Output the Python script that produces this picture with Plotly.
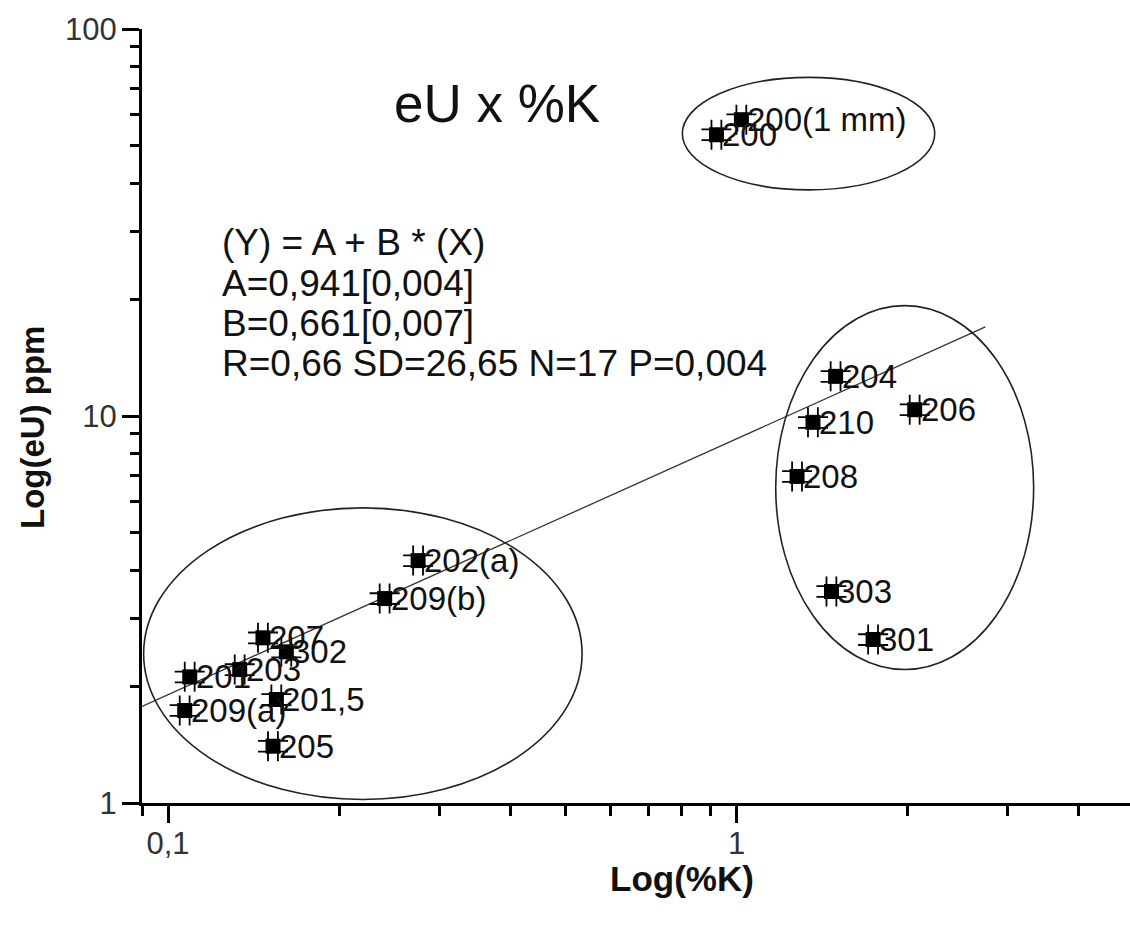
import numpy as np
import plotly.graph_objects as go

# Sample labels with potassium (%K) and equivalent uranium (eU, ppm)
samples = ["200(1 mm)", "200", "204", "206", "210", "208", "303", "301",
           "202(a)", "209(b)", "207", "302", "203", "201", "209(a)", "201,5", "205"]
potassium = [1.020, 0.922, 1.494, 2.058, 1.363, 1.278, 1.469, 1.739,
             0.2754, 0.2405, 0.1469, 0.1615, 0.1337, 0.1092, 0.1070, 0.1551, 0.1530]
uranium = [58.3, 53.3, 12.66, 10.38, 9.63, 6.98, 3.52, 2.645,
           4.23, 3.375, 2.672, 2.458, 2.212, 2.118, 1.734, 1.851, 1.402]

# Linear fit in log-log space: log(Y) = A + B * log(X)
fit_a = 0.941
fit_b = 0.661
fit_x_span = [0.09, 2.74]
fit_lines = ["(Y) = A + B * (X)",
             "A=0,941[0,004]",
             "B=0,661[0,007]",
             "R=0,66 SD=26,65 N=17 P=0,004"]

# Groups outlined by ellipses: (x_min, x_max, y_min, y_max) in data units
groups = [
    (0.0906, 0.5350, 1.021, 5.79),
    (1.172, 3.332, 2.212, 19.28),
    (0.8030, 2.232, 38.4, 75.0),
]

# Axis ticks
x_major = [0.1, 1]
x_major_text = ["0,1", "1"]
y_major = [1, 10, 100]
y_major_text = ["1", "10", "100"]
x_minor = [0.09, 0.2, 0.3, 0.4, 0.5, 0.6, 0.7, 0.8, 0.9, 2, 3, 4]
y_minor = [2, 3, 4, 5, 6, 7, 8, 9, 20, 30, 40, 50, 60, 70, 80, 90]

FONT = "Liberation Sans, Arial, sans-serif"

fig = go.Figure()

fit_x = np.array(fit_x_span)
fit_y = 10 ** (fit_a + fit_b * np.log10(fit_x))
fig.add_trace(go.Scatter(
    x=fit_x, y=fit_y, mode="lines",
    line=dict(color="#333333", width=1.3),
    hoverinfo="skip", showlegend=False,
))

fig.add_trace(go.Scatter(
    x=potassium, y=uranium, mode="markers",
    marker=dict(symbol="square", size=15, color="black", line=dict(width=0)),
    error_x=dict(type="percent", value=2.0, color="black", thickness=1.8, width=15),
    error_y=dict(type="percent", value=3.2, color="black", thickness=1.8, width=15),
    text=samples, hovertemplate="%{text}<br>K=%{x}<br>eU=%{y}<extra></extra>",
    showlegend=False,
))

annotations = []
for name, kx, uy in zip(samples, potassium, uranium):
    annotations.append(dict(
        x=np.log10(kx), y=np.log10(uy), xref="x", yref="y",
        text=name, showarrow=False, xanchor="left", yanchor="middle",
        xshift=4, font=dict(family=FONT, size=33, color="#111111"),
    ))

shapes = []
for x0, x1, y0, y1 in groups:
    shapes.append(dict(
        type="circle", xref="x", yref="y", x0=x0, x1=x1, y0=y0, y1=y1,
        line=dict(color="#222222", width=1.6), layer="above",
    ))

# Regression summary block
L, T, H, W = 142, 29, 774, 988
for i, line in enumerate(fit_lines):
    annotations.append(dict(
        x=(220 - L) / W, y=(803 - (243 + 40 * i)) / H, xref="paper", yref="paper",
        text=line, showarrow=False, xanchor="left", yanchor="middle",
        font=dict(family=FONT, size=37, color="#111111"),
    ))

# Chart title and axis titles
annotations.append(dict(
    x=(497 - L) / W, y=(803 - 104) / H, xref="paper", yref="paper",
    text="eU x %K", showarrow=False, xanchor="center", yanchor="middle",
    font=dict(family=FONT, size=53, color="#111111"),
))
annotations.append(dict(
    x=(682 - L) / W, y=(803 - 878) / H, xref="paper", yref="paper",
    text="<b>Log(%K)</b>", showarrow=False, xanchor="center", yanchor="middle",
    font=dict(family=FONT, size=35, color="#111111"),
))
annotations.append(dict(
    x=(32 - L) / W, y=(803 - 428) / H, xref="paper", yref="paper",
    text="<b>Log(eU) ppm</b>", showarrow=False, xanchor="center", yanchor="middle",
    textangle=-90, font=dict(family=FONT, size=33, color="#111111"),
))

axis_common = dict(
    type="log", showgrid=False, zeroline=False, showline=True,
    linecolor="black", linewidth=3, ticks="outside", ticklen=17, tickwidth=3,
    tickcolor="black", tickfont=dict(family=FONT, size=31, color="#333333"),
    tickmode="array", mirror=False,
)

fig.update_layout(
    width=1130, height=930,
    margin=dict(l=L, r=0, t=T, b=930 - T - H),
    paper_bgcolor="white", plot_bgcolor="white",
    xaxis=dict(
        **axis_common, range=[np.log10(0.09), np.log10(0.09) + W / 568.5],
        tickvals=x_major, ticktext=x_major_text, ticklabelstandoff=-6,
        minor=dict(tickmode="array", tickvals=x_minor, ticks="outside",
                   ticklen=10, tickwidth=3, tickcolor="black", showgrid=False),
    ),
    yaxis=dict(
        **axis_common, range=[0, 2],
        tickvals=y_major, ticktext=y_major_text, ticklabelstandoff=-1,
        minor=dict(tickmode="array", tickvals=y_minor, ticks="outside",
                   ticklen=9, tickwidth=3, tickcolor="black", showgrid=False),
    ),
    shapes=shapes, annotations=annotations,
)

fig.write_html("out.html")
